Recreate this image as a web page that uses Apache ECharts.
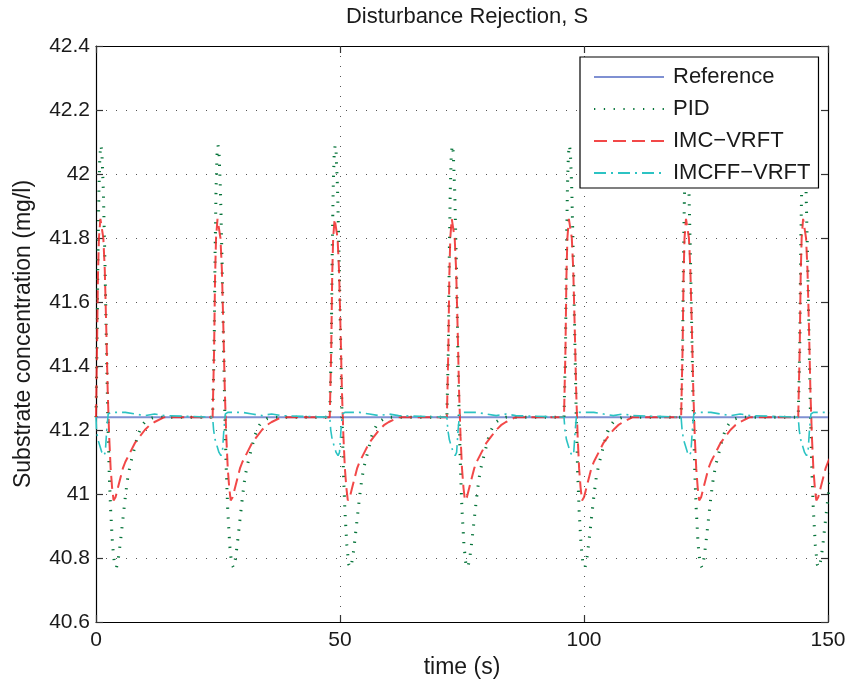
<!DOCTYPE html>
<html>
<head>
<meta charset="utf-8">
<script src="https://cdn.jsdelivr.net/npm/echarts@6/dist/echarts.min.js"></script>
<style>
  html, body { margin: 0; padding: 0; background: #fff; }
  #chart { width: 851px; height: 684px; }
</style>
</head>
<body>
<div id="chart"></div>
<script>
// disturbance pulses hit every 24 s
const pulseStarts = [0, 24, 48, 72, 96, 120, 144];

// reference setpoint
const refTimes = [0, 150];
const refVals = [41.24, 41.24];

// response after each pulse (seconds after pulse start)
const pidTau  = [0, 0.2, 0.4, 0.6, 0.8, 1.0, 1.2, 1.5, 1.8, 2.1, 2.4, 2.7, 3.0, 3.4, 3.8, 4.2, 4.6, 5.0, 5.5, 6.0, 6.5, 7.0, 7.5, 8.0, 8.5, 9.0, 9.5, 10, 11, 12, 23.9];
const pidVals = [41.24, 41.45, 41.75, 41.95, 42.06, 42.09, 42.07, 41.95, 41.75, 41.5, 41.25, 41.07, 40.95, 40.84, 40.78, 40.77, 40.8, 40.85, 40.92, 40.99, 41.05, 41.09, 41.12, 41.15, 41.18, 41.2, 41.215, 41.225, 41.235, 41.24, 41.24];

const imcTau  = [0, 0.2, 0.4, 0.6, 0.9, 1.2, 1.5, 1.8, 2.1, 2.4, 2.7, 3.0, 3.3, 3.6, 4.0, 4.5, 5.0, 5.5, 6.0, 7.0, 8.0, 9.0, 10, 11, 12, 14, 23.9];
const imcVals = [41.24, 41.45, 41.68, 41.8, 41.86, 41.86, 41.8, 41.7, 41.52, 41.32, 41.18, 41.08, 41.02, 40.98, 40.99, 41.02, 41.05, 41.08, 41.1, 41.13, 41.16, 41.18, 41.2, 41.215, 41.225, 41.24, 41.24];

const ffTau  = [0, 0.1, 0.4, 0.8, 1.2, 1.6, 1.9, 2.2, 2.5, 3.0, 6.0, 8.0, 10, 12, 14, 23.9];
const ffVals = [41.24, 41.2, 41.17, 41.15, 41.13, 41.12, 41.13, 41.2, 41.25, 41.255, 41.255, 41.25, 41.245, 41.25, 41.245, 41.24];

const xTicks = { min: 0, max: 150, interval: 50 };
const yTicks = { min: 40.6, max: 42.4, interval: 0.2 };

// lay the pulse response down at every pulse start
function pulseTrain(tau, vals) {
    let pts = [];
    pulseStarts.forEach(t0 => {
        tau.forEach((d, i) => pts.push([t0 + d, vals[i]]));
    });
    return pts;
}

const font = "'Liberation Sans', Arial, sans-serif";
const textColor = '#1a1a1a';

const gridLine = { show: true, lineStyle: { color: '#555', type: [1, 9], width: 1 } };
const boxLine = { show: true, onZero: false, lineStyle: { color: '#000', width: 1.2 } };
const tickIn = { show: true, inside: true, length: 7, lineStyle: { color: '#333', width: 1.2 } };

let options = {
    animation: false,
    backgroundColor: '#fff',
    title: {
        text: 'Disturbance Rejection, S',
        left: 462,
        top: 1,
        textAlign: 'center',
        textStyle: { fontFamily: font, fontSize: 22, fontWeight: 'normal', color: textColor }
    },
    grid: { left: 96, right: 23, top: 46, bottom: 62 },
    legend: {
        orient: 'vertical',
        left: 580,
        top: 57,
        padding: [9, 8, 4, 13],
        itemWidth: 70,
        itemHeight: 20,
        itemGap: 10,
        backgroundColor: '#fff',
        borderColor: '#000',
        borderWidth: 1.2,
        borderRadius: 0,
        selectedMode: false,
        itemStyle: { opacity: 0 },
        textStyle: { fontFamily: font, fontSize: 22, color: textColor, padding: [0, 0, 0, 4] },
        data: ['Reference', 'PID', 'IMC\u2212VRFT', 'IMCFF\u2212VRFT']
    },
    xAxis: [
        {
            type: 'value',
            ...xTicks,
            name: 'time (s)',
            nameLocation: 'middle',
            nameGap: 32,
            nameTextStyle: { fontFamily: font, fontSize: 23, color: textColor },
            axisLine: boxLine,
            axisTick: tickIn,
            axisLabel: { margin: 8, fontFamily: font, fontSize: 21, color: textColor },
            splitLine: gridLine
        },
        {
            type: 'value',
            position: 'top',
            ...xTicks,
            axisLine: boxLine,
            axisTick: tickIn,
            axisLabel: { show: false },
            splitLine: { show: false }
        }
    ],
    yAxis: [
        {
            type: 'value',
            ...yTicks,
            name: 'Substrate concentration (mg/l)',
            nameLocation: 'middle',
            nameGap: 61,
            nameTextStyle: { fontFamily: font, fontSize: 23, color: textColor },
            axisLine: boxLine,
            axisTick: tickIn,
            axisLabel: { margin: 6, fontFamily: font, fontSize: 21, color: textColor },
            splitLine: gridLine
        },
        {
            type: 'value',
            position: 'right',
            ...yTicks,
            axisLine: boxLine,
            axisTick: tickIn,
            axisLabel: { show: false },
            splitLine: { show: false }
        }
    ],
    series: [
        {
            name: 'Reference',
            type: 'line',
            symbol: 'none',
            lineStyle: { color: '#7f90d2', width: 2 },
            itemStyle: { color: '#7f90d2' },
            data: refTimes.map((t, i) => [t, refVals[i]])
        },
        {
            name: 'PID',
            type: 'line',
            symbol: 'none',
            lineStyle: { color: '#06743a', width: 3, type: [1.3, 8.5] },
            itemStyle: { color: '#06743a' },
            data: pulseTrain(pidTau, pidVals)
        },
        {
            name: 'IMC\u2212VRFT',
            type: 'line',
            symbol: 'none',
            lineStyle: { color: 'rgba(240,40,40,0.85)', width: 2, type: [13, 6] },
            itemStyle: { color: 'rgba(240,40,40,0.85)' },
            data: pulseTrain(imcTau, imcVals)
        },
        {
            name: 'IMCFF\u2212VRFT',
            type: 'line',
            symbol: 'none',
            lineStyle: { color: '#2cc3c3', width: 1.6, type: [12, 5, 2, 5] },
            itemStyle: { color: '#2cc3c3' },
            data: pulseTrain(ffTau, ffVals)
        }
    ]
};

let chart = echarts.init(document.getElementById('chart'));
chart.setOption(options);
</script>
</body>
</html>
